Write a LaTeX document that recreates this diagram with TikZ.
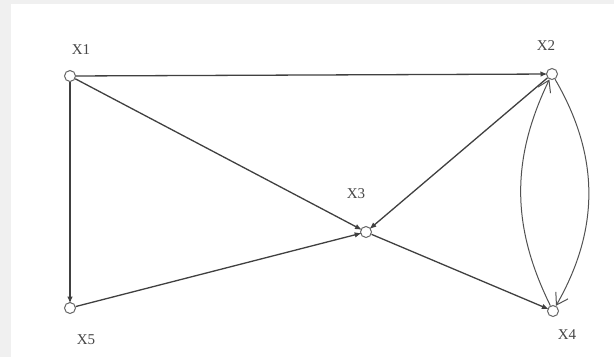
\documentclass[tikz,border=0pt]{standalone}
\usepackage{fontspec}
\setmainfont{Liberation Serif}
\usetikzlibrary{arrows.meta}
\begin{document}
\begin{tikzpicture}[x=1pt,y=-1pt,
  vtx/.style={circle,draw=black!60,line width=1pt,minimum size=11pt,inner sep=0pt},
  lbl/.style={font=\fontsize{15}{17}\selectfont,text=black!72,inner sep=0pt},
  edge/.style={draw=black!75,line width=1.3pt,shorten >=-1.5pt,-{Latex[length=7pt,width=5.5pt]}},
  arcedge/.style={draw=black!68,line width=1pt,-{Straight Barb[length=11pt,width=14pt]}}]
\fill[black!6] (0,0) rectangle (614,357);
\fill[white] (11,4) rectangle (614,357);
\useasboundingbox (0,0) rectangle (614,357);
% vertices
\node[vtx] (x1) at (70,76) {};
\node[vtx] (x2) at (552,74) {};
\node[vtx] (x3) at (366,232) {};
\node[vtx] (x4) at (553,311) {};
\node[vtx] (x5) at (70,308) {};
% labels
\node[lbl] (l1) at (81,50) {X1};
\node[lbl] (l2) at (546,46) {X2};
\node[lbl] (l3) at (356,194) {X3};
\node[lbl] (l4) at (567,335) {X4};
\node[lbl] (l5) at (86,340) {X5};
% edges
\draw[edge] (x1) -- (x2);
\draw[edge] (x1) -- (x5);
\draw[edge] (x1) -- (x3);
\draw[edge] (x5) -- (x3);
\draw[edge] (x2) -- (x3);
\draw[edge] (x3) -- (x4);
\draw[arcedge] (x4) to[bend left=26] (x2);
\draw[arcedge] (x2) to[bend left=30] (x4);
\end{tikzpicture}
\end{document}
